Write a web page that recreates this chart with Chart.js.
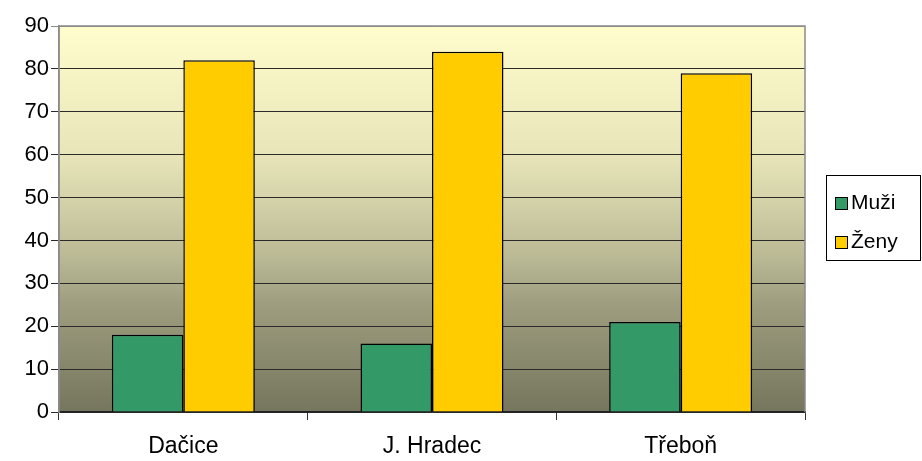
<!DOCTYPE html>
<html>
<head>
<meta charset="utf-8">
<script src="https://cdn.jsdelivr.net/npm/chart.js@4/dist/chart.umd.min.js"></script>
<style>
    html, body { margin: 0; padding: 0; background: #fff; }
    #wrap { width: 922px; height: 461px; position: relative; }
</style>
</head>
<body>
<div id="wrap"><canvas id="chart"></canvas></div>
<script>
var mesta = ['Dačice', 'J. Hradec', 'Třeboň'];
var muzi = [18, 16, 21];
var zeny = [82, 84, 79];
var yMin = 0, yMax = 90, yStep = 10;

var fontFamily = '"Liberation Sans", Arial, sans-serif';

// gradient fill + grey frame of the plot area
var plotBackground = {
    id: 'plotBackground',
    beforeDraw: function(chart) {
        var a = chart.chartArea, ctx = chart.ctx;
        var g = ctx.createLinearGradient(0, a.top, 0, a.bottom);
        g.addColorStop(0, '#fffdcc');
        g.addColorStop(0.33, '#e8e6b9');
        g.addColorStop(0.6, '#bab995');
        g.addColorStop(0.72, '#9e9d7f');
        g.addColorStop(1, '#75765d');
        ctx.save();
        ctx.fillStyle = g;
        ctx.fillRect(a.left, a.top, a.right - a.left, a.bottom - a.top);
        ctx.restore();
    },
    afterDraw: function(chart) {
        var a = chart.chartArea, ctx = chart.ctx;
        ctx.save();
        ctx.strokeStyle = '#8a8a8a';
        ctx.lineWidth = 1.5;
        ctx.beginPath();
        ctx.moveTo(a.left, a.bottom);
        ctx.lineTo(a.left, a.top);
        ctx.lineTo(a.right, a.top);
        ctx.lineTo(a.right, a.bottom);
        ctx.stroke();
        ctx.restore();
    }
};

// boxed legend to the right of the plot
var legendBox = {
    id: 'legendBox',
    afterDraw: function(chart) {
        var a = chart.chartArea, ctx = chart.ctx;
        var x = a.right + 21, y = 175, w = 94, h = 85;
        ctx.save();
        ctx.fillStyle = '#fff';
        ctx.fillRect(x, y, w, h);
        ctx.strokeStyle = '#000';
        ctx.lineWidth = 1;
        ctx.strokeRect(x + 0.5, y + 0.5, w, h);
        ctx.font = '21px ' + fontFamily;
        ctx.textBaseline = 'middle';
        chart.data.datasets.forEach(function(ds, i) {
            var cy = y + 28 + i * 39;
            ctx.fillStyle = ds.backgroundColor;
            ctx.fillRect(x + 9, cy - 6, 12, 12);
            ctx.strokeStyle = '#000';
            ctx.strokeRect(x + 9.5, cy - 5.5, 12, 12);
            ctx.fillStyle = '#000';
            ctx.fillText(ds.label, x + 25, cy);
        });
        ctx.restore();
    }
};

new Chart(document.getElementById('chart'), {
    type: 'bar',
    data: {
        labels: mesta,
        datasets: [
            {
                label: 'Muži',
                data: muzi,
                backgroundColor: '#339966',
                borderColor: '#000',
                borderWidth: 1.5,
                categoryPercentage: 0.575,
                barPercentage: 1.0
            },
            {
                label: 'Ženy',
                data: zeny,
                backgroundColor: '#ffcc00',
                borderColor: '#000',
                borderWidth: 1.5,
                categoryPercentage: 0.575,
                barPercentage: 1.0
            }
        ]
    },
    options: {
        responsive: true,
        maintainAspectRatio: false,
        animation: false,
        layout: { padding: { top: 26, right: 117, bottom: 0, left: 0 } },
        plugins: {
            legend: { display: false },
            tooltip: { enabled: false }
        },
        scales: {
            x: {
                afterFit: function(scale) { scale.height = 49; },
                ticks: {
                    color: '#000',
                    padding: 13,
                    font: { family: fontFamily, size: 23 }
                },
                grid: {
                    drawOnChartArea: false,
                    drawTicks: true,
                    tickLength: 8,
                    color: '#333'
                },
                border: { color: '#222', width: 1.5 }
            },
            y: {
                min: yMin,
                max: yMax,
                afterFit: function(scale) { scale.width = 59; },
                ticks: {
                    stepSize: yStep,
                    color: '#000',
                    padding: 2,
                    font: { family: fontFamily, size: 22 }
                },
                grid: {
                    color: function(c) { return c.tick && c.tick.value === yMax ? '#8a8a8a' : '#2a2a2a'; },
                    lineWidth: 1,
                    tickLength: 8
                },
                border: { color: '#8a8a8a', width: 1.5 }
            }
        }
    },
    plugins: [plotBackground, legendBox]
});
</script>
</body>
</html>
